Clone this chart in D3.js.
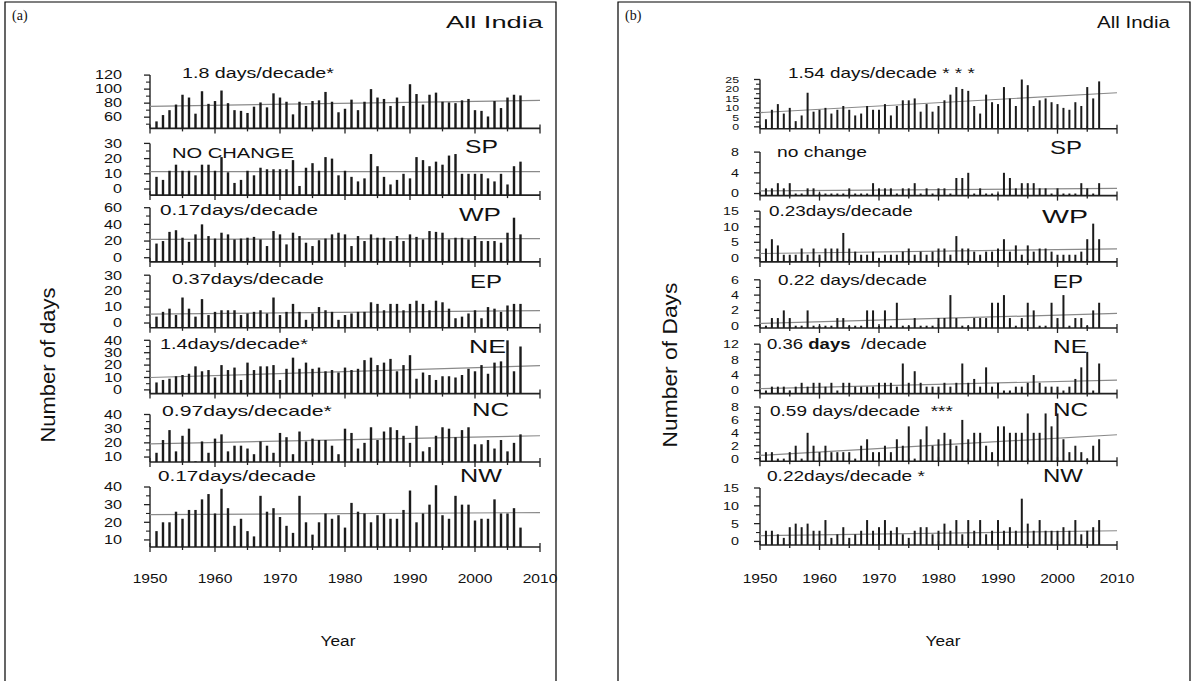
<!DOCTYPE html>
<html><head><meta charset="utf-8">
<script src="https://cdn.jsdelivr.net/npm/d3@7"></script>
<style>body{margin:0;background:#fff}svg{display:block}text{white-space:pre}</style>
</head><body><svg id="chart" width="1196" height="681"></svg>
<script>
const years = [1951,1952,1953,1954,1955,1956,1957,1958,1959,1960,1961,1962,1963,1964,1965,1966,1967,1968,1969,1970,1971,1972,1973,1974,1975,1976,1977,1978,1979,1980,1981,1982,1983,1984,1985,1986,1987,1988,1989,1990,1991,1992,1993,1994,1995,1996,1997,1998,1999,2000,2001,2002,2003,2004,2005,2006,2007];
const xTickYears = [1950,1960,1970,1980,1990,2000,2010];
const regions = ["All India","SP","WP","EP","NE","NC","NW"];

// Panel (a): number of days
const aAllIndia = [54,63,70,78,92,88,65,97,79,83,98,80,70,69,66,75,81,74,94,88,82,64,82,76,83,84,96,82,67,72,85,70,82,100,88,86,76,88,76,107,93,78,92,95,82,81,80,84,86,70,69,61,83,73,88,92,91];
const aSP = [8,6,12,16,12,12,9,16,16,12,21,11,4,6,12,9,14,13,13,13,13,19,2,14,17,12,21,20,9,12,8,5,7,23,15,8,3,6,10,7,21,19,15,18,16,22,23,10,10,10,10,7,5,10,3,15,18];
const aWP = [17,20,31,33,24,19,28,40,26,23,30,28,22,23,24,25,22,14,32,28,16,30,26,18,14,21,23,28,30,28,14,26,20,28,24,24,20,26,20,28,25,22,32,31,30,22,24,24,22,26,20,20,20,18,30,48,28];
const aEP = [4,7,9,5,16,9,4,15,5,7,8,8,8,5,6,7,8,6,16,5,7,12,7,2,6,10,8,7,2,5,6,7,7,13,12,8,12,12,8,12,14,12,8,14,13,9,3,4,6,8,3,10,9,7,11,12,12];
const aNE = [6,8,9,11,12,13,19,15,16,10,20,16,18,8,22,16,19,19,20,8,17,26,17,22,17,18,15,16,14,18,16,17,24,26,20,22,25,15,20,28,9,14,12,8,11,11,10,12,17,15,20,13,22,23,40,15,35];
const aNC = [13,22,29,14,25,30,7,21,13,23,26,14,18,18,16,12,21,18,13,27,24,12,28,21,23,22,22,18,12,30,27,16,20,31,22,28,31,29,25,20,32,14,17,25,31,30,24,29,31,19,19,22,16,22,14,20,26];
const aNW = [15,20,20,26,22,27,27,33,36,25,39,28,18,22,15,12,35,26,28,23,18,14,35,20,13,20,25,22,24,17,31,26,25,20,24,25,22,22,27,38,20,25,30,41,24,22,35,30,30,21,22,22,33,25,25,28,17];
const aTrendStart = [75.5,11.5,22,5.6,10,19.3,24.3];
const aTrendEnd   = [84,11.5,23,7.8,19.5,25,25.5];
const aTrendText = ["1.8 days/decade*","NO CHANGE","0.17days/decade","0.37days/decade","1.4days/decade*","0.97days/decade*","0.17days/decade"];
const aYTicks = [[60,80,100,120],[0,10,20,30],[0,20,40,60],[0,10,20,30],[0,10,20,30,40],[10,20,30,40],[10,20,30,40]];

// Panel (b): number of days
const bAllIndia = [4,9,12,7,10,3,6,18,8,9,10,7,9,11,9,6,7,11,9,9,12,6,11,14,14,15,8,12,8,11,14,17,21,20,19,11,7,17,13,12,21,15,11,25,22,11,14,15,13,12,10,9,13,11,21,15,24];
const bSP = [1,1,2,1,2,0,0,1,1,0,0,0,0,0,1,0,0,0,2,1,1,1,0,1,1,2,0,1,0,1,1,0,3,3,4,0,1,0,0,0,4,3,1,2,2,2,1,1,0,1,0,0,0,2,1,0,2];
const bWP = [3,6,4,1,1,1,3,1,3,1,3,3,3,8,3,2,1,1,2,0,1,1,1,2,3,1,2,1,2,3,3,1,7,3,3,2,1,2,2,3,6,2,4,1,4,2,3,3,2,1,1,1,1,2,6,11,6];
const bEP = [0,1,1,2,1,0,0,2,0,0,0,0,1,1,0,0,0,2,2,0,2,0,3,0,0,1,0,0,0,1,1,4,1,0,0,1,1,1,3,3,4,1,0,1,3,2,0,0,3,1,4,0,1,1,0,2,3];
const bNE = [0,1,1,1,0,1,2,1,2,2,1,2,0,2,2,1,1,1,1,2,2,2,1,7,2,5,2,1,1,1,2,1,2,7,2,3,1,6,1,2,0,0,1,1,2,4,2,1,1,1,0,1,3,6,10,0,7];
const bNC = [1,1,0,0,1,2,0,4,2,1,2,1,1,1,1,0,2,3,1,1,2,1,3,2,5,0,3,5,2,3,4,3,2,6,3,4,4,2,1,5,5,4,4,4,7,4,4,7,5,7,3,1,2,1,0,2,3];
const bNW = [3,3,2,1,4,5,4,5,3,3,6,1,2,4,1,2,3,6,3,4,6,3,4,2,1,3,4,4,2,3,5,3,6,2,6,3,6,2,3,6,3,4,3,12,5,3,6,3,3,3,4,3,6,2,3,4,6];
const bTrendStart = [7.5,0.5,1.4,0.3,0.5,0.5,1.6];
const bTrendEnd   = [18,1.0,2.9,1.6,2.7,3.7,3.0];
const bTrendText = ["1.54 days/decade * * *","no change","0.23days/decade","0.22 days/decade",null,"0.59 days/decade  ***","0.22days/decade *"];
const bYTicks = [[0,5,10,15,20,25],[0,4,8],[0,5,10,15],[0,2,4,6],[0,4,8,12],[0,2,4,6,8],[0,5,10,15]];

const aSeries = [aAllIndia,aSP,aWP,aEP,aNE,aNC,aNW];
const bSeries = [bAllIndia,bSP,bWP,bEP,bNE,bNC,bNW];

// ---------- layout ----------
const SANS = "'Liberation Sans', Arial, sans-serif";
const svg = d3.select("#chart");
svg.append("rect").attr("width",1196).attr("height",681).attr("fill","#fff");

function txt(g, x, y, s, size, o={}) {
  const t = g.append("text").attr("font-family", o.family||SANS).attr("font-size", size)
    .attr("font-weight", o.weight||"normal").attr("fill","#111")
    .attr("text-anchor", o.anchor||"start");
  if (Array.isArray(s)) s.forEach(p => t.append("tspan").attr("font-weight", p.w||"normal").text(p.t));
  else t.text(s);
  const w = t.node().getComputedTextLength();
  const sx = o.width ? o.width / w : (o.sx || 1);
  t.attr("transform", `translate(${x},${y})${o.rot?` rotate(${o.rot})`:""} scale(${sx},1)`);
  return t;
}

const panels = [
  { key:"a", border:[5,556], x0:150, x1:540, series:aSeries, ticks:aYTicks, ts:aTrendStart, te:aTrendEnd, tt:aTrendText,
    barW:2.4, labelEnd:122, tickFont:[12,12,12,12,12,12,12], tickSx:1.35,
    sub:[{y0:128.4,y1:75.1,d0:44,d1:120},{y0:195.1,y1:143.4,d0:-4,d1:30},{y0:261.9,y1:207.7,d0:-5,d1:60},{y0:327.8,y1:275.2,d0:-3,d1:30},{y0:393.6,y1:340.3,d0:-3,d1:40},{y0:462,y1:414.5,d0:6.5,d1:40},{y0:547,y1:487,d0:6,d1:40}],
    tpos:[[182,77.6,152],[172,157.6,122],[160,215.2,158],[172,283.6,152],[160,349.4,148],[162,416.2,170],[158,481,158]],
    rpos:[null,[465,152.6,33],[459,221,42],[470,287.7,32],[469,352.8,37],[472,416.2,37],[460,482,42]],
    title:[446,28,97], tag:"(a)", tagX:12, ylab:"Number of days", ylabX:55, ylabLen:155, yearX:338 },
  { key:"b", border:[618,1190], x0:760, x1:1117, series:bSeries, ticks:bYTicks, ts:bTrendStart, te:bTrendEnd, tt:bTrendText,
    barW:2.0, labelEnd:739, tickFont:[9.5,11,11,11,11,11,11], tickSx:1.3,
    sub:[{y0:128.7,y1:79.5,d0:-1,d1:25},{y0:195.6,y1:152.1,d0:-0.4,d1:8},{y0:261.9,y1:211.2,d0:-1.3,d1:15},{y0:328,y1:279.8,d0:-0.3,d1:6},{y0:393.6,y1:344.2,d0:-0.8,d1:12},{y0:461.2,y1:407,d0:-0.4,d1:8},{y0:545,y1:488,d0:-1,d1:15}],
    tpos:[[788,77.6,187],[777,156.8,90],[769,216,144],[778,285.2,149],[767,349.4,160],[770,416.2,183],[767,481,158]],
    rpos:[null,[1050,154.3,32],[1042,222.7,46],[1053,287.7,30],[1053,352.8,34],[1053,416.2,35],[1043,482,40]],
    title:[1097,28,73], tag:"(b)", tagX:625, ylab:"Number of Days", ylabX:677, ylabLen:165, yearX:943 }
];

panels.forEach(P => {
  const g = svg.append("g");
  g.append("path").attr("d", `M${P.border[0]},681 V2 H${P.border[1]} V681`)
    .attr("fill","none").attr("stroke","#000").attr("stroke-width",1.2);
  txt(g, P.tagX, 20, P.tag, 14, {family:"'Liberation Serif', 'Times New Roman', serif"});
  txt(g, P.title[0], P.title[1], "All India", 17, {width:P.title[2]});

  const x = d3.scaleLinear().domain([1950,2010]).range([P.x0,P.x1]);

  P.sub.forEach((S, i) => {
    const y = d3.scaleLinear().domain([S.d0, S.d1]).range([S.y0, S.y1]);
    const sg = g.append("g");
    const ticks = P.ticks[i];
    const top = d3.max(ticks);
    const step = ticks[1]-ticks[0];
    const minors = [];
    for (let v = ticks[0]-step/2; v < top; v += step) if (v >= S.d0) minors.push(v);
    sg.append("line").attr("x1",P.x0).attr("x2",P.x0).attr("y1",y(S.d0)).attr("y2",y(top))
      .attr("stroke","#222").attr("stroke-width",1.4);
    const tf = P.tickFont[i];
    ticks.forEach(v => {
      sg.append("line").attr("x1",P.x0-6).attr("x2",P.x0).attr("y1",y(v)).attr("y2",y(v)).attr("stroke","#222").attr("stroke-width",1.3);
      txt(sg, P.labelEnd, y(v)+tf*0.36, String(v), tf, {anchor:"end", sx:P.tickSx});
    });
    minors.forEach(v => sg.append("line").attr("x1",P.x0-4).attr("x2",P.x0).attr("y1",y(v)).attr("y2",y(v)).attr("stroke","#222").attr("stroke-width",1.1));

    sg.append("line").attr("x1",x(1950)).attr("x2",x(2010)).attr("y1",S.y0).attr("y2",S.y0)
      .attr("stroke","#222").attr("stroke-width",1.6);
    d3.range(1950, 2011, 5).forEach(yr => {
      const major = yr % 10 === 0;
      sg.append("line").attr("x1",x(yr)).attr("x2",x(yr))
        .attr("y1",S.y0-(major?4:3)).attr("y2",S.y0+(major?5:3))
        .attr("stroke","#222").attr("stroke-width",1.3);
    });

    sg.append("line").attr("x1",x(1950)).attr("x2",x(2010))
      .attr("y1",y(P.ts[i])).attr("y2",y(P.te[i]))
      .attr("stroke","#8a8a8a").attr("stroke-width",1.2);

    sg.selectAll("rect.bar").data(years.map((yr,k)=>({yr, v:P.series[i][k]}))).join("rect")
      .attr("class","bar")
      .attr("x", d => x(d.yr)-P.barW/2).attr("width",P.barW)
      .attr("y", d => y(Math.max(d.v,S.d0))).attr("height", d => Math.max(0, S.y0 - y(Math.max(d.v,S.d0))))
      .attr("fill","#1b1b1b");

    const tp = P.tpos[i];
    if (P.key === "b" && i === 4) {
      txt(sg, tp[0], tp[1], [{t:"0.36 "},{t:"days",w:"bold"},{t:"  /decade"}], 14, {width:tp[2]});
    } else {
      txt(sg, tp[0], tp[1], P.tt[i], 14, {width:tp[2]});
    }
    if (P.rpos[i]) txt(sg, P.rpos[i][0], P.rpos[i][1], regions[i], 18, {width:P.rpos[i][2]});

    if (i === P.sub.length-1) {
      xTickYears.forEach(yr => txt(sg, x(yr), 583, String(yr), 13, {anchor:"middle", sx:1.2}));
      txt(sg, P.yearX, 646, "Year", 15, {anchor:"middle", sx:1.15});
    }
  });
  txt(g, P.ylabX, 365, P.ylab, 20, {anchor:"middle", rot:-90, width:P.ylabLen});
});
</script></body></html>
